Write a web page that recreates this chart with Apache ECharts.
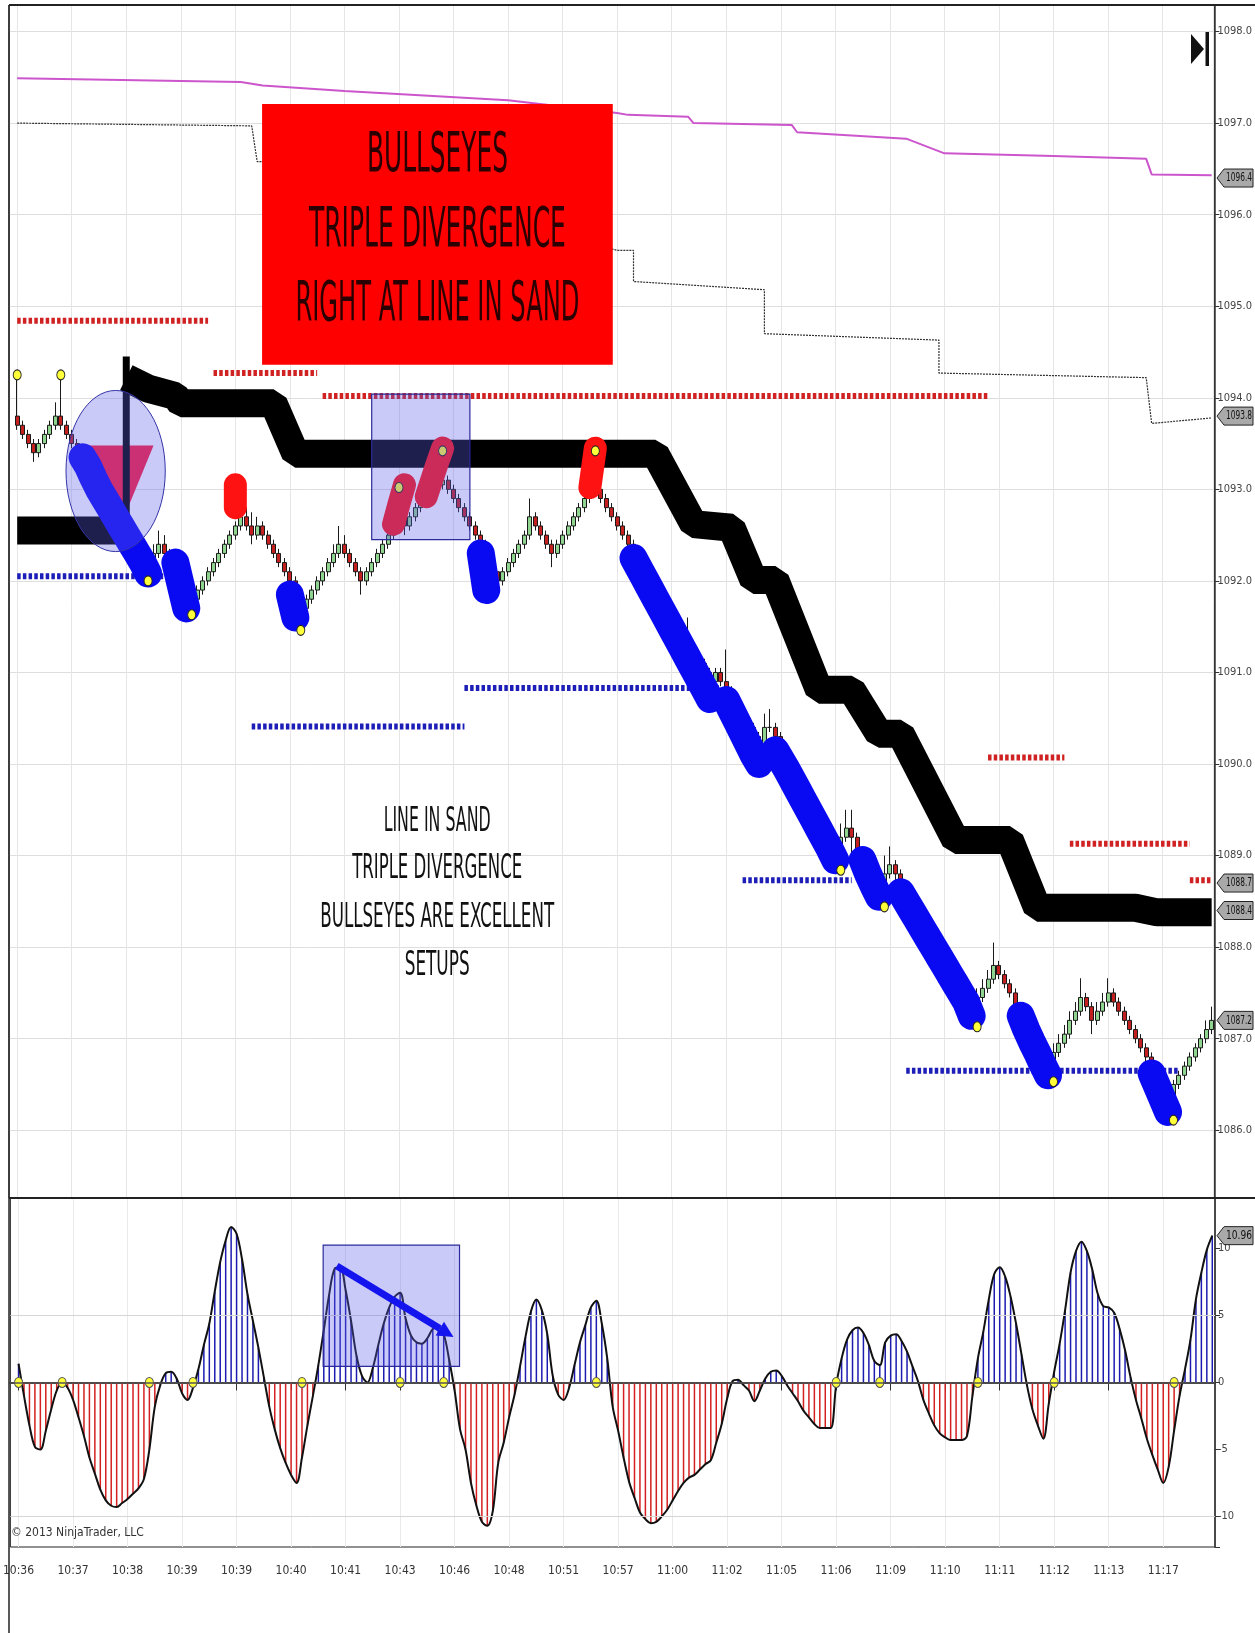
<!DOCTYPE html>
<html>
<head>
<meta charset="utf-8">
<script src="https://cdn.jsdelivr.net/npm/echarts@6/dist/echarts.min.js"></script>
<style>
  html, body { margin: 0; padding: 0; background: #fff; }
  #main { width: 1255px; height: 1633px; }
</style>
</head>
<body>
<div id="main"></div>
<script>
// time labels, one every 10 bars
const timeLabels = ['10:36','10:37','10:38','10:39','10:39','10:40','10:41','10:43','10:46','10:48','10:51',
  '10:57','11:00','11:02','11:05','11:06','11:09','11:10','11:11','11:12','11:13','11:17'];

// price bars (220)
const opens = [
  1093.8,1093.7,1093.6,1093.5,1093.4,1093.5,1093.6,1093.7,1093.8,1093.7,
  1093.6,1093.5,1093.4,1093.3,1093.2,1093.1,1093.0,1092.9,1092.8,1092.7,
  1092.6,1092.5,1092.4,1092.3,1092.2,1092.1,1092.3,1092.4,1092.3,1092.2,
  1092.1,1092.0,1091.9,1091.8,1091.9,1092.0,1092.1,1092.2,1092.3,1092.4,
  1092.5,1092.6,1092.7,1092.6,1092.5,1092.6,1092.5,1092.4,1092.3,1092.2,
  1092.1,1092.0,1091.8,1091.7,1091.8,1091.9,1092.0,1092.1,1092.2,1092.3,
  1092.4,1092.3,1092.2,1092.1,1092.0,1092.1,1092.2,1092.3,1092.4,1092.5,
  1092.6,1092.7,1092.6,1092.7,1092.8,1092.85,1092.9,1093.0,1093.05,1093.1,
  1093.0,1092.9,1092.8,1092.7,1092.6,1092.5,1092.4,1092.2,1092.1,1092.0,
  1092.1,1092.2,1092.3,1092.4,1092.5,1092.7,1092.6,1092.5,1092.4,1092.3,
  1092.4,1092.5,1092.6,1092.7,1092.8,1092.9,1093.1,1093.0,1092.9,1092.8,
  1092.7,1092.6,1092.5,1092.4,1092.3,1092.2,1092.1,1092.0,1091.9,1091.8,
  1091.7,1091.6,1091.5,1091.4,1091.3,1091.2,1091.1,1091.0,1090.9,1091.0,
  1090.9,1090.8,1090.7,1090.6,1090.5,1090.4,1090.3,1090.2,1090.4,1090.4,
  1090.3,1090.15,1090.05,1089.95,1089.85,1089.7,1089.6,1089.5,1089.4,1089.3,
  1089.2,1089.05,1089.2,1089.3,1089.2,1089.0,1088.9,1088.8,1088.7,1088.6,
  1088.8,1088.9,1088.8,1088.65,1088.55,1088.45,1088.35,1088.25,1088.15,1088.05,
  1087.95,1087.8,1087.7,1087.6,1087.5,1087.4,1087.3,1087.45,1087.55,1087.65,
  1087.8,1087.7,1087.6,1087.5,1087.35,1087.25,1087.1,1087.0,1086.9,1086.8,
  1086.7,1086.85,1086.95,1087.05,1087.2,1087.3,1087.45,1087.35,1087.2,1087.3,
  1087.4,1087.5,1087.4,1087.3,1087.2,1087.1,1087.0,1086.9,1086.8,1086.7,
  1086.55,1086.4,1086.3,1086.5,1086.6,1086.7,1086.8,1086.9,1087.0,1087.1
];
const closes = [
  1093.7,1093.6,1093.5,1093.4,1093.5,1093.6,1093.7,1093.8,1093.7,1093.6,
  1093.5,1093.4,1093.3,1093.2,1093.1,1093.0,1092.9,1092.8,1092.7,1092.6,
  1092.5,1092.4,1092.3,1092.2,1092.1,1092.3,1092.4,1092.3,1092.2,1092.1,
  1092.0,1091.9,1091.8,1091.9,1092.0,1092.1,1092.2,1092.3,1092.4,1092.5,
  1092.6,1092.7,1092.6,1092.5,1092.6,1092.5,1092.4,1092.3,1092.2,1092.1,
  1092.0,1091.8,1091.7,1091.8,1091.9,1092.0,1092.1,1092.2,1092.3,1092.4,
  1092.3,1092.2,1092.1,1092.0,1092.1,1092.2,1092.3,1092.4,1092.5,1092.6,
  1092.7,1092.6,1092.7,1092.8,1092.85,1092.9,1093.0,1093.05,1093.1,1093.0,
  1092.9,1092.8,1092.7,1092.6,1092.5,1092.4,1092.2,1092.1,1092.0,1092.1,
  1092.2,1092.3,1092.4,1092.5,1092.7,1092.6,1092.5,1092.4,1092.3,1092.4,
  1092.5,1092.6,1092.7,1092.8,1092.9,1093.1,1093.0,1092.9,1092.8,1092.7,
  1092.6,1092.5,1092.4,1092.3,1092.2,1092.1,1092.0,1091.9,1091.8,1091.7,
  1091.6,1091.5,1091.4,1091.3,1091.2,1091.1,1091.0,1090.9,1091.0,1090.9,
  1090.8,1090.7,1090.6,1090.5,1090.4,1090.3,1090.2,1090.4,1090.4,1090.3,
  1090.15,1090.05,1089.95,1089.85,1089.7,1089.6,1089.5,1089.4,1089.3,1089.2,
  1089.05,1089.2,1089.3,1089.2,1089.0,1088.9,1088.8,1088.7,1088.6,1088.8,
  1088.9,1088.8,1088.65,1088.55,1088.45,1088.35,1088.25,1088.15,1088.05,1087.95,
  1087.8,1087.7,1087.6,1087.5,1087.4,1087.3,1087.45,1087.55,1087.65,1087.8,
  1087.7,1087.6,1087.5,1087.35,1087.25,1087.1,1087.0,1086.9,1086.8,1086.7,
  1086.85,1086.95,1087.05,1087.2,1087.3,1087.45,1087.35,1087.2,1087.3,1087.4,
  1087.5,1087.4,1087.3,1087.2,1087.1,1087.0,1086.9,1086.8,1086.7,1086.55,
  1086.4,1086.3,1086.5,1086.6,1086.7,1086.8,1086.9,1087.0,1087.1,1087.2
];
const lows = [
  1093.65,1093.55,1093.45,1093.3,1093.35,1093.45,1093.55,1093.65,1093.65,1093.55,
  1093.45,1093.35,1093.25,1093.15,1093.05,1092.95,1092.85,1092.75,1092.65,1092.55,
  1092.45,1092.35,1092.25,1092.15,1092.0,1092.05,1092.25,1092.25,1092.15,1092.05,
  1091.95,1091.85,1091.7,1091.75,1091.85,1091.95,1092.05,1092.15,1092.25,1092.35,
  1092.45,1092.55,1092.55,1092.4,1092.45,1092.45,1092.35,1092.25,1092.15,1092.05,
  1091.95,1091.75,1091.6,1091.65,1091.75,1091.85,1091.95,1092.05,1092.15,1092.25,
  1092.25,1092.15,1092.05,1091.85,1091.95,1092.05,1092.15,1092.25,1092.35,1092.45,
  1092.55,1092.5,1092.55,1092.65,1092.75,1092.8,1092.85,1092.95,1093.0,1092.95,
  1092.85,1092.75,1092.65,1092.55,1092.45,1092.35,1092.15,1092.05,1091.95,1091.95,
  1092.05,1092.15,1092.25,1092.35,1092.45,1092.55,1092.45,1092.35,1092.15,1092.25,
  1092.35,1092.45,1092.55,1092.65,1092.75,1092.85,1092.95,1092.85,1092.75,1092.65,
  1092.55,1092.45,1092.35,1092.25,1092.15,1092.05,1091.95,1091.85,1091.75,1091.65,
  1091.55,1091.45,1091.35,1091.25,1091.15,1091.05,1090.95,1090.85,1090.85,1090.85,
  1090.75,1090.65,1090.55,1090.45,1090.35,1090.25,1090.15,1090.15,1090.35,1090.25,
  1090.1,1090.0,1089.9,1089.8,1089.65,1089.55,1089.45,1089.35,1089.25,1089.15,
  1089.0,1089.0,1089.15,1088.98,1088.95,1088.85,1088.75,1088.65,1088.5,1088.55,
  1088.75,1088.7,1088.6,1088.5,1088.4,1088.3,1088.2,1088.1,1088.0,1087.9,
  1087.75,1087.65,1087.55,1087.45,1087.35,1087.15,1087.25,1087.4,1087.5,1087.6,
  1087.65,1087.55,1087.45,1087.3,1087.2,1087.05,1086.95,1086.85,1086.75,1086.55,
  1086.65,1086.8,1086.9,1087.0,1087.15,1087.25,1087.3,1087.05,1087.15,1087.25,
  1087.35,1087.35,1087.25,1087.15,1087.05,1086.95,1086.85,1086.75,1086.65,1086.5,
  1086.35,1086.1,1086.25,1086.45,1086.55,1086.65,1086.75,1086.85,1086.95,1087.05
];
const highs = [
  1094.25,1093.75,1093.65,1093.55,1093.55,1093.65,1093.75,1093.95,1094.25,1093.75,
  1093.65,1093.55,1093.45,1093.35,1093.25,1093.15,1093.05,1092.95,1092.85,1092.75,
  1092.65,1092.55,1092.45,1092.35,1092.25,1092.4,1092.55,1092.5,1092.35,1092.25,
  1092.15,1092.05,1091.95,1091.95,1092.05,1092.15,1092.25,1092.35,1092.45,1092.55,
  1092.65,1092.75,1092.8,1092.75,1092.7,1092.65,1092.55,1092.45,1092.35,1092.25,
  1092.15,1092.05,1091.85,1091.85,1091.95,1092.05,1092.15,1092.25,1092.4,1092.6,
  1092.5,1092.35,1092.25,1092.15,1092.15,1092.25,1092.35,1092.45,1092.55,1092.65,
  1092.85,1092.75,1092.75,1092.85,1092.9,1092.95,1093.05,1093.1,1093.2,1093.15,
  1093.05,1092.95,1092.85,1092.75,1092.65,1092.55,1092.45,1092.25,1092.15,1092.15,
  1092.25,1092.35,1092.45,1092.55,1092.9,1092.75,1092.65,1092.55,1092.45,1092.45,
  1092.55,1092.65,1092.75,1092.85,1092.95,1093.2,1093.15,1093.05,1092.95,1092.85,
  1092.75,1092.65,1092.55,1092.45,1092.35,1092.25,1092.15,1092.05,1091.95,1091.85,
  1091.75,1091.65,1091.55,1091.6,1091.35,1091.25,1091.15,1091.05,1091.05,1091.05,
  1091.25,1090.85,1090.75,1090.65,1090.55,1090.45,1090.35,1090.55,1090.6,1090.45,
  1090.35,1090.2,1090.1,1090.0,1089.9,1089.75,1089.65,1089.55,1089.45,1089.35,
  1089.25,1089.35,1089.5,1089.5,1089.25,1089.05,1088.95,1088.85,1088.75,1089.0,
  1089.1,1088.95,1088.85,1088.7,1088.6,1088.5,1088.4,1088.3,1088.2,1088.1,
  1088.0,1087.85,1087.75,1087.65,1087.55,1087.45,1087.55,1087.65,1087.75,1088.05,
  1087.85,1087.75,1087.65,1087.55,1087.4,1087.3,1087.15,1087.05,1086.95,1086.85,
  1086.95,1087.05,1087.15,1087.3,1087.4,1087.66,1087.5,1087.4,1087.4,1087.5,
  1087.66,1087.55,1087.45,1087.35,1087.25,1087.15,1087.05,1086.95,1086.85,1086.75,
  1086.6,1086.45,1086.55,1086.65,1086.75,1086.85,1086.95,1087.05,1087.2,1087.35
];

// oscillator, one value per bar
const oscValues = [
  1.4,-1.0,-3.2,-4.8,-5.0,-3.6,-2.0,-0.6,0.0,-0.4,
  -1.3,-2.6,-4.0,-5.6,-6.8,-8.0,-8.8,-9.2,-9.3,-9.0,
  -8.7,-8.3,-7.9,-7.2,-5.0,-1.8,-0.2,0.7,0.8,0.3,
  -0.8,-1.3,-0.4,1.0,2.8,4.4,6.8,9.0,10.6,11.6,
  11.1,9.2,6.6,4.6,2.6,0.4,-1.8,-3.5,-4.9,-6.0,
  -6.9,-7.5,-5.6,-3.2,-1.0,1.3,3.9,6.6,8.5,8.6,
  6.9,4.6,2.0,0.5,0.0,1.1,2.8,4.4,5.6,6.4,
  6.7,4.8,3.5,3.0,2.9,3.3,4.0,4.1,3.6,1.7,
  -0.6,-3.5,-5.0,-7.5,-9.2,-10.4,-10.7,-9.6,-6.0,-4.5,
  -2.6,-0.9,1.2,3.4,5.3,6.2,5.4,3.6,0.5,-0.9,
  -1.3,-0.4,1.3,3.0,4.3,5.6,6.1,4.4,1.8,-1.8,
  -3.6,-5.6,-7.4,-8.6,-9.7,-10.2,-10.5,-10.4,-10.0,-9.5,
  -8.8,-8.1,-7.5,-7.1,-6.9,-6.5,-6.1,-5.8,-4.5,-3.1,
  -1.2,0.1,0.2,-0.2,-0.6,-1.4,-0.6,0.3,0.8,0.9,
  0.5,-0.2,-0.8,-1.4,-2.1,-2.6,-3.1,-3.4,-3.4,-3.4,
  -0.2,1.8,3.2,3.9,4.1,3.7,2.8,1.6,1.3,3.0,
  3.5,3.6,3.1,2.3,1.2,0.1,-1.3,-2.3,-3.2,-3.8,
  -4.1,-4.3,-4.3,-4.3,-4.0,-1.0,1.8,3.8,6.2,8.1,
  8.6,7.9,6.4,4.4,2.1,-0.2,-2.0,-3.2,-4.2,-1.6,
  0.8,2.9,5.4,8.2,9.8,10.5,9.8,8.4,6.6,5.7,
  5.6,5.2,4.0,2.4,0.4,-1.3,-2.7,-4.2,-5.4,-6.5,
  -7.5,-6.3,-3.6,-1.0,1.0,3.2,6.2,8.2,9.9,10.96
];

// overlay lines: [bar, price]
const bandLeft = [[0,1092.55],[19,1092.55]];
const bandJump = [[20,1092.42],[20,1094.45]];
const bandRight = [[20,1094.22],[24,1094.1],[29,1094.02],[30,1093.94],[47,1093.94],[51,1093.39],
  [117,1093.39],[124,1092.62],[131,1092.58],[135,1092.01],[139,1092.01],[147,1090.81],[153,1090.81],
  [158,1090.33],[162,1090.33],[172,1089.17],[182,1089.17],[187,1088.43],[205,1088.43],[209,1088.38],[219,1088.38]];
const magentaLine = [[0,1097.49],[41,1097.45],[45,1097.41],[60,1097.35],[90,1097.25],[110,1097.11],[112,1097.09],
  [123,1097.07],[124,1097.0],[142,1096.98],[143,1096.9],[163,1096.83],[170,1096.67],[190,1096.64],
  [207,1096.61],[208,1096.44],[219,1096.43]];
const stepLine = [[0,1097.0],[43,1096.97],[44,1096.58],[46,1096.58],[110,1095.61],[113,1095.61],[113,1095.27],
  [137,1095.18],[137,1094.7],[169,1094.63],[169,1094.27],[207,1094.22],[208,1093.72],[219,1093.78]];

// levels: [fromBar, toBar, price]
const resistance = [[0,35,1094.84],[36,55,1094.27],[56,178,1094.02],[178,192,1090.07],[193,215,1089.13],[215,219,1088.73]];
const support = [[0,27,1092.05],[43,82,1090.41],[82,129,1090.83],[133,153,1088.73],[163,213,1086.65]];

// bullseye runs: [bar, price]
const blueRuns = [
  [[12,1093.35],[13,1093.25],[14,1093.12],[15,1093.0],[16,1092.9],[17,1092.8],[18,1092.7],[19,1092.6],[20,1092.5],
   [21,1092.4],[22,1092.3],[23,1092.2],[24,1092.08]],
  [[29,1092.2],[30,1091.95],[31,1091.7]],
  [[50,1091.85],[51,1091.6]],
  [[85,1092.3],[86,1091.9]],
  [[113,1092.25],[114,1092.14],[115,1092.03],[116,1091.92],[117,1091.81],[118,1091.7],[119,1091.59],[120,1091.48],
   [121,1091.37],[122,1091.26],[123,1091.15],[124,1091.04],[125,1090.93],[126,1090.82],[127,1090.71]],
  [[130,1090.7],[131,1090.58],[132,1090.46],[133,1090.34],[134,1090.22],[135,1090.1],[136,1090.0]],
  [[139,1090.15],[140,1090.05],[141,1089.95],[142,1089.84],[143,1089.73],[144,1089.62],[145,1089.51],[146,1089.4],
   [147,1089.29],[148,1089.18],[149,1089.07],[150,1088.95]],
  [[155,1088.95],[156,1088.8],[157,1088.67],[158,1088.55]],
  [[162,1088.6],[163,1088.5],[164,1088.4],[165,1088.3],[166,1088.2],[167,1088.1],[168,1088.0],[169,1087.9],
   [170,1087.8],[171,1087.7],[172,1087.6],[173,1087.5],[174,1087.4],[175,1087.25]],
  [[184,1087.25],[185,1087.1],[186,1086.97],[187,1086.85],[188,1086.72],[189,1086.6]],
  [[208,1086.62],[209,1086.48],[210,1086.34],[211,1086.2]]
];
const redRuns = [
  [[40,1092.8],[40,1093.05]],
  [[69,1092.62],[70,1092.84],[71,1093.05]],
  [[75,1092.92],[76,1093.1],[77,1093.28],[78,1093.45]],
  [[105,1093.02],[106,1093.45]]
];
const swingDots = [[0,1094.25],[8,1094.25],[24,1092.0],[32,1091.63],[52,1091.46],[70,1093.02],[78,1093.42],
  [106,1093.42],[151,1088.84],[159,1088.44],[176,1087.13],[190,1086.53],[212,1086.11]];
const oscDotBars = [0,8,24,32,52,70,78,106,150,158,176,190,212];

// price tags on the right axis
const priceTags = [1096.4, 1093.8, 1088.7, 1088.4, 1087.2];
const oscTag = 10.96;

const NARROW = "'DejaVu Sans Condensed','Liberation Sans Narrow','Arial Narrow',sans-serif";
const slots = Array.from({ length: 221 }, (_, k) => String(k));
const slot = i => i + 1;
const isLabelSlot = idx => idx >= 1 && (idx - 1) % 10 === 0 && (idx - 1) / 10 < timeLabels.length;
const toSlots = pts => pts.map(p => [slot(p[0]), p[1]]);

const chart = echarts.init(document.getElementById('main'));

const levelSeries = (levels, color) => levels.map(l => ({
  type: 'line', xAxisIndex: 0, yAxisIndex: 0, z: 2, symbol: 'none', silent: true,
  data: [[slot(l[0]), l[2]], [slot(l[1]), l[2]]],
  lineStyle: { color: color, width: 6, type: [3.5, 2.2], cap: 'butt' }
}));
const runSeries = (runs, color, width, z) => runs.map(r => ({
  type: 'line', xAxisIndex: 0, yAxisIndex: 0, z: z, symbol: 'none', silent: true,
  data: toSlots(r),
  lineStyle: { color: color, width: width, cap: 'round', join: 'round' }
}));

const option = {
  animation: false,
  backgroundColor: '#fff',
  grid: [
    { left: 9, top: 5, width: 1206, height: 1193, show: true, borderColor: '#222', borderWidth: 1 },
    { left: 9, top: 1198, width: 1206, height: 349, show: true, borderColor: '#222', borderWidth: 1 }
  ],
  xAxis: [
    {
      type: 'category', gridIndex: 0, data: slots, boundaryGap: true,
      axisLine: { show: false }, axisTick: { show: false }, axisLabel: { show: false },
      splitLine: { show: true, interval: isLabelSlot, alignWithLabel: true, lineStyle: { color: '#e6e6e6' } }
    },
    {
      type: 'category', gridIndex: 1, data: slots, boundaryGap: true,
      axisLine: { show: true, lineStyle: { color: '#333', width: 2 } },
      axisTick: { show: true, interval: isLabelSlot, alignWithLabel: true, length: 8, lineStyle: { color: '#333' } },
      axisLabel: {
        interval: isLabelSlot, color: '#333', fontFamily: NARROW, fontSize: 12, margin: 18,
        formatter: (v, idx) => timeLabels[(idx - 1) / 10] || ''
      },
      splitLine: { show: true, interval: isLabelSlot, alignWithLabel: true, lineStyle: { color: '#eaeaea' } }
    }
  ],
  yAxis: [
    {
      type: 'value', gridIndex: 0, position: 'right', min: 1085.26, max: 1098.29, splitNumber: 13,
      axisLine: { show: true, lineStyle: { color: '#333', width: 1.5 } },
      axisTick: { show: true, length: 5, lineStyle: { color: '#333' } },
      axisLabel: {
        color: '#444', fontFamily: NARROW, fontSize: 11, margin: 3,
        formatter: v => Math.abs(v - Math.round(v)) < 1e-6 ? v.toFixed(1) : ''
      },
      splitLine: { show: true, lineStyle: { color: '#dedede' } }
    },
    {
      type: 'value', gridIndex: 1, position: 'right', min: -12.28, max: 13.77, splitNumber: 5,
      axisLine: { show: true, lineStyle: { color: '#333', width: 1.5 } },
      axisTick: { show: true, length: 5, lineStyle: { color: '#333' } },
      axisLabel: {
        color: '#444', fontFamily: NARROW, fontSize: 11, margin: 3,
        formatter: v => Math.abs(v / 5 - Math.round(v / 5)) < 1e-6 ? String(Math.round(v)) : ''
      },
      splitLine: { show: false }
    }
  ],
  series: [
    ...levelSeries(resistance, '#d02222'),
    ...levelSeries(support, '#1d1db8'),
    {
      type: 'line', xAxisIndex: 0, yAxisIndex: 0, z: 3, symbol: 'none', silent: true,
      data: toSlots(magentaLine), lineStyle: { color: '#cc55cc', width: 2 }
    },
    {
      type: 'line', xAxisIndex: 0, yAxisIndex: 0, z: 3, symbol: 'none', silent: true,
      data: toSlots(stepLine), lineStyle: { color: '#333', width: 1.2, type: [2, 1] }
    },
    {
      type: 'line', xAxisIndex: 0, yAxisIndex: 0, z: 4, symbol: 'none', silent: true,
      data: toSlots(bandLeft), lineStyle: { color: '#000', width: 28, cap: 'butt', join: 'bevel' }
    },
    {
      type: 'line', xAxisIndex: 0, yAxisIndex: 0, z: 4, symbol: 'none', silent: true,
      data: toSlots(bandJump), lineStyle: { color: '#000', width: 7, cap: 'butt' }
    },
    {
      type: 'line', xAxisIndex: 0, yAxisIndex: 0, z: 4, symbol: 'none', silent: true,
      data: toSlots(bandRight), lineStyle: { color: '#000', width: 28, cap: 'butt', join: 'bevel' }
    },
    {
      type: 'candlestick', xAxisIndex: 0, yAxisIndex: 0, z: 5, silent: true, barWidth: 4.5,
      encode: { x: 0, y: [1, 2, 3, 4] },
      data: opens.map((o, i) => [slot(i), o, closes[i], lows[i], highs[i]]),
      itemStyle: { color: '#8fd48f', color0: '#c42020', borderColor: '#1a1a1a', borderColor0: '#1a1a1a', borderWidth: 1 }
    },
    ...runSeries(blueRuns, '#0a0af2', 28, 6),
    ...runSeries(redRuns, '#ff1212', 23, 6),
    {
      type: 'scatter', xAxisIndex: 0, yAxisIndex: 0, z: 7, silent: true, symbol: 'circle', symbolSize: [8, 10],
      data: toSlots(swingDots), itemStyle: { color: '#ffff3a', borderColor: '#222', borderWidth: 1, opacity: 1 }
    },
    {
      type: 'bar', xAxisIndex: 1, yAxisIndex: 1, z: 2, silent: true, barWidth: 1.5,
      data: oscValues.map((v, i) => [slot(i), v]),
      itemStyle: { color: p => p.value[1] >= 0 ? '#1c1cb0' : '#d42020' },
      markLine: {
        silent: true, symbol: 'none', label: { show: false },
        data: [
          { yAxis: 0, lineStyle: { color: '#555', width: 1.5, type: 'solid' } },
          { yAxis: 5, lineStyle: { color: '#d6d6d6', width: 1, type: 'solid' } },
          { yAxis: -10, lineStyle: { color: '#d6d6d6', width: 1, type: 'solid' } }
        ]
      }
    },
    {
      type: 'line', xAxisIndex: 1, yAxisIndex: 1, z: 3, symbol: 'none', silent: true, smooth: 0.35,
      data: oscValues.map((v, i) => [slot(i), v]), lineStyle: { color: '#111', width: 2 }
    },
    {
      type: 'scatter', xAxisIndex: 1, yAxisIndex: 1, z: 4, silent: true, symbol: 'circle', symbolSize: [8, 10],
      data: oscDotBars.map(i => [slot(i), 0]), itemStyle: { color: '#ffff3a', borderColor: '#555', borderWidth: 1, opacity: 1 }
    }
  ]
};
chart.setOption(option);

// ---- annotations, placed through the chart's own scales ----
const p0 = chart.convertToPixel({ gridIndex: 0 }, [slot(0), 1090]);
const p1 = chart.convertToPixel({ gridIndex: 0 }, [slot(1), 1090]);
const bw = p1[0] - p0[0];
const X = i => p0[0] + i * bw;
const Y0 = v => chart.convertToPixel({ yAxisIndex: 0 }, v);
const Y1 = v => chart.convertToPixel({ yAxisIndex: 1 }, v);

const noteBox = { i0: 44.9, i1: 109.2, top: 1097.21, bottom: 1094.36 };
const zoneBox = { i0: 65, i1: 83, top: 1094.04, bottom: 1092.45 };
const ring = { i: 18.05, p: 1093.2, ri: 9.1, rp: 0.88 };
const wedge = [[13.1, 1093.48], [25.0, 1093.48], [20.1, 1092.77]];
const oscBox = { i0: 56.1, i1: 81.1, top: 10.25, bottom: 1.2 };
const oscArrow = [[58.6, 8.7], [80, 3.4]];
const boxLines = [['BULLSEYES', 1096.64, 141], ['TRIPLE DIVERGENCE', 1095.82, 257], ['RIGHT AT LINE IN SAND', 1095.01, 284]];
const noteLines = [['LINE IN SAND', 1089.36, 107], ['TRIPLE DIVERGENCE', 1088.85, 170],
  ['BULLSEYES ARE EXCELLENT', 1088.31, 234], ['SETUPS', 1087.79, 65]];

const ctx = document.createElement('canvas').getContext('2d');
function fitText(text, font, target) { ctx.font = font; return target / ctx.measureText(text).width; }

const els = [];
const fill = 'rgba(95,95,235,0.33)';

// frame lines
els.push({ type: 'line', z: 140, shape: { x1: 9, y1: 5, x2: 1255, y2: 5 }, style: { stroke: '#222', lineWidth: 2 } });
els.push({ type: 'line', z: 140, shape: { x1: 9, y1: 1198, x2: 1255, y2: 1198 }, style: { stroke: '#222', lineWidth: 2 } });
els.push({ type: 'line', z: 140, shape: { x1: 9, y1: 5, x2: 9, y2: 1633 }, style: { stroke: '#222', lineWidth: 1.5 } });

// wedge under the ring
els.push({ type: 'polygon', z: 1, shape: { points: wedge.map(w => [X(w[0]), Y0(w[1])]) }, style: { fill: '#ff1a3a' } });
// ring
els.push({ type: 'ellipse', z: 100, shape: { cx: X(ring.i), cy: Y0(ring.p), rx: ring.ri * bw, ry: Y0(ring.p - ring.rp) - Y0(ring.p) },
  style: { fill: fill, stroke: '#3434a8', lineWidth: 1 } });
// divergence zone in price
els.push({ type: 'rect', z: 100, shape: { x: X(zoneBox.i0), y: Y0(zoneBox.top), width: X(zoneBox.i1) - X(zoneBox.i0), height: Y0(zoneBox.bottom) - Y0(zoneBox.top) },
  style: { fill: fill, stroke: '#2a2a9a', lineWidth: 1.2 } });
// divergence zone in oscillator
els.push({ type: 'rect', z: 100, shape: { x: X(oscBox.i0), y: Y1(oscBox.top), width: X(oscBox.i1) - X(oscBox.i0), height: Y1(oscBox.bottom) - Y1(oscBox.top) },
  style: { fill: fill, stroke: '#2a2a9a', lineWidth: 1.2 } });
// arrow
(function () {
  const s = [X(oscArrow[0][0]), Y1(oscArrow[0][1])];
  const e = [X(oscArrow[1][0]), Y1(oscArrow[1][1])];
  const dx = e[0] - s[0], dy = e[1] - s[1], len = Math.hypot(dx, dy);
  const ux = dx / len, uy = dy / len, nx = -uy, ny = ux;
  const hb = [e[0] - ux * 16, e[1] - uy * 16];
  els.push({ type: 'line', z: 101, shape: { x1: s[0], y1: s[1], x2: hb[0], y2: hb[1] }, style: { stroke: '#1414ee', lineWidth: 7 } });
  els.push({ type: 'polygon', z: 101, shape: { points: [e, [hb[0] + nx * 8, hb[1] + ny * 8], [hb[0] - nx * 8, hb[1] - ny * 8]] }, style: { fill: '#1414ee' } });
})();

// red note box
els.push({ type: 'rect', z: 120, shape: { x: X(noteBox.i0), y: Y0(noteBox.top), width: X(noteBox.i1) - X(noteBox.i0), height: Y0(noteBox.bottom) - Y0(noteBox.top) },
  style: { fill: '#ff0000' } });
const bigFont = "56px " + NARROW;
boxLines.forEach(l => {
  els.push({ type: 'text', z: 121, x: X((noteBox.i0 + noteBox.i1) / 2), y: Y0(l[1]), scaleX: fitText(l[0], bigFont, l[2]),
    style: { text: l[0], font: bigFont, fill: '#2a0000', align: 'center', verticalAlign: 'middle' } });
});
const midFont = "33px " + NARROW;
noteLines.forEach(l => {
  els.push({ type: 'text', z: 121, x: X(77), y: Y0(l[1]), scaleX: fitText(l[0], midFont, l[2]),
    style: { text: l[0], font: midFont, fill: '#111', align: 'center', verticalAlign: 'middle' } });
});

// price tags
const tagFont = '12px ' + NARROW;
function tag(y, text) {
  const x0 = 1217;
  els.push({ type: 'polygon', z: 130, shape: { points: [[x0, y], [x0 + 7, y - 9], [x0 + 36, y - 9], [x0 + 36, y + 9], [x0 + 7, y + 9]] },
    style: { fill: '#a9a9a9', stroke: '#222', lineWidth: 1 } });
  els.push({ type: 'text', z: 131, x: x0 + 22, y: y, scaleX: Math.min(1, fitText(text, tagFont, 26)),
    style: { text: text, font: tagFont, fill: '#111', align: 'center', verticalAlign: 'middle' } });
}
priceTags.forEach(v => tag(Y0(v), v.toFixed(1)));
tag(Y1(oscTag), oscTag.toFixed(2));

// go-to-end button
els.push({ type: 'polygon', z: 130, shape: { points: [[1191, 34], [1191, 64], [1204, 49]] }, style: { fill: '#111' } });
els.push({ type: 'rect', z: 130, shape: { x: 1205.5, y: 32, width: 3.5, height: 34 }, style: { fill: '#111' } });

// copyright
els.push({ type: 'text', z: 130, x: 11, y: 1533, style: { text: '\u00A9 2013 NinjaTrader, LLC', font: '12px ' + NARROW, fill: '#333', align: 'left', verticalAlign: 'middle' } });

chart.setOption({ graphic: els });
</script>
</body>
</html>
